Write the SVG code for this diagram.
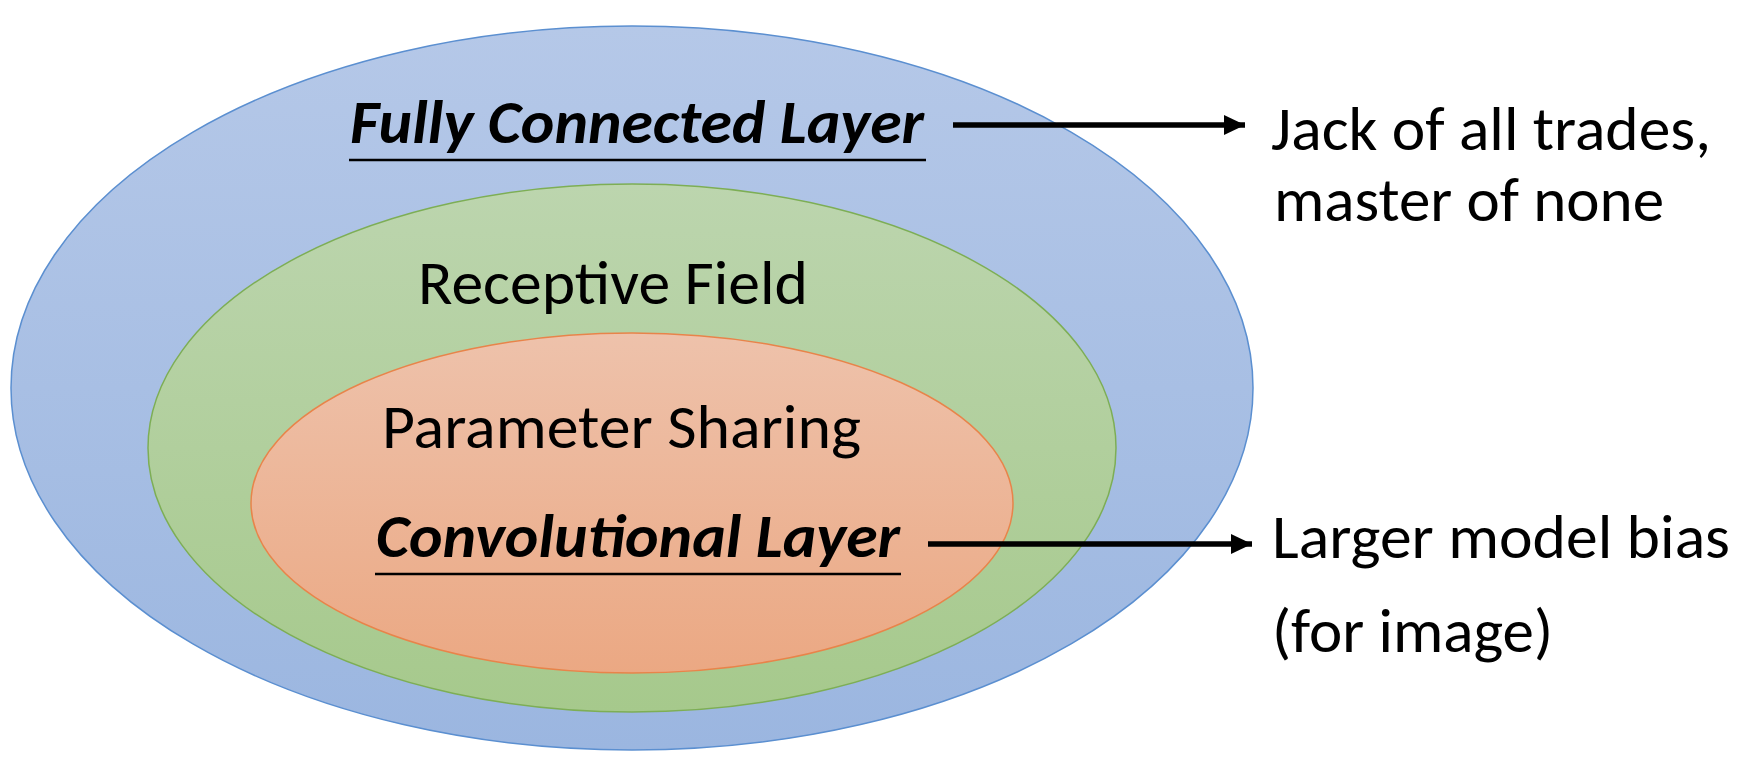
<svg xmlns="http://www.w3.org/2000/svg" width="1748" height="772" viewBox="0 0 1748 772">
<defs>
<linearGradient id="gBlue" x1="0" y1="0" x2="0" y2="1">
<stop offset="0" stop-color="#B5C8E8"/>
<stop offset="1" stop-color="#9BB6E0"/>
</linearGradient>
<linearGradient id="gGreen" x1="0" y1="0" x2="0" y2="1">
<stop offset="0" stop-color="#BCD5AE"/>
<stop offset="1" stop-color="#A6C98C"/>
</linearGradient>
<linearGradient id="gOrange" x1="0" y1="0" x2="0" y2="1">
<stop offset="0" stop-color="#EEC2AB"/>
<stop offset="1" stop-color="#EBA883"/>
</linearGradient>
<marker id="arrow" markerUnits="userSpaceOnUse" markerWidth="22" markerHeight="20" refX="21" refY="10" orient="auto">
<path d="M0,0 L21,10 L0,20 Z" fill="#000"/>
</marker>
<style>
.t{font-family:Carlito,Calibri,Lato,"Open Sans",sans-serif;font-size:61px;fill:#000}
.bi{font-weight:bold;font-style:italic}
.ul{stroke:#000;stroke-width:2.5}
.conn{stroke:#000;stroke-width:5.5;fill:none;marker-end:url(#arrow)}
</style>
</defs>
<g id="fully-connected">
<ellipse cx="632" cy="388" rx="621" ry="362" fill="url(#gBlue)" stroke="#5B8FD0" stroke-width="1.5"/>
<text class="t bi" x="350" y="143" textLength="574" lengthAdjust="spacingAndGlyphs">Fully Connected Layer</text>
<line class="ul" x1="349" y1="160" x2="926" y2="160"/>
</g>
<g id="receptive-field">
<ellipse cx="632" cy="448" rx="484" ry="264" fill="url(#gGreen)" stroke="#7DAE55" stroke-width="1.5"/>
<text class="t" x="418" y="304" textLength="390" lengthAdjust="spacingAndGlyphs">Receptive Field</text>
</g>
<g id="parameter-sharing">
<ellipse cx="632" cy="503" rx="381" ry="170" fill="url(#gOrange)" stroke="#E8844A" stroke-width="1.5"/>
<text class="t" x="382" y="448" textLength="479" lengthAdjust="spacingAndGlyphs">Parameter Sharing</text>
</g>
<g id="convolutional">
<text class="t bi" x="376" y="557" textLength="524" lengthAdjust="spacingAndGlyphs">Convolutional Layer</text>
<line class="ul" x1="375" y1="574" x2="901" y2="574"/>
</g>
<g id="connectors">
<line class="conn" x1="953" y1="125" x2="1245" y2="125"/>
<line class="conn" x1="928" y1="544" x2="1252" y2="544"/>
</g>
<g id="jack">
<text class="t" x="1271" y="150" textLength="440" lengthAdjust="spacingAndGlyphs">Jack of all trades,</text>
<text class="t" x="1274" y="221" textLength="390" lengthAdjust="spacingAndGlyphs">master of none</text>
</g>
<g id="bias">
<text class="t" x="1272" y="558" textLength="458" lengthAdjust="spacingAndGlyphs">Larger model bias</text>
<text class="t" x="1272" y="652" textLength="281" lengthAdjust="spacingAndGlyphs">(for image)</text>
</g>
</svg>
